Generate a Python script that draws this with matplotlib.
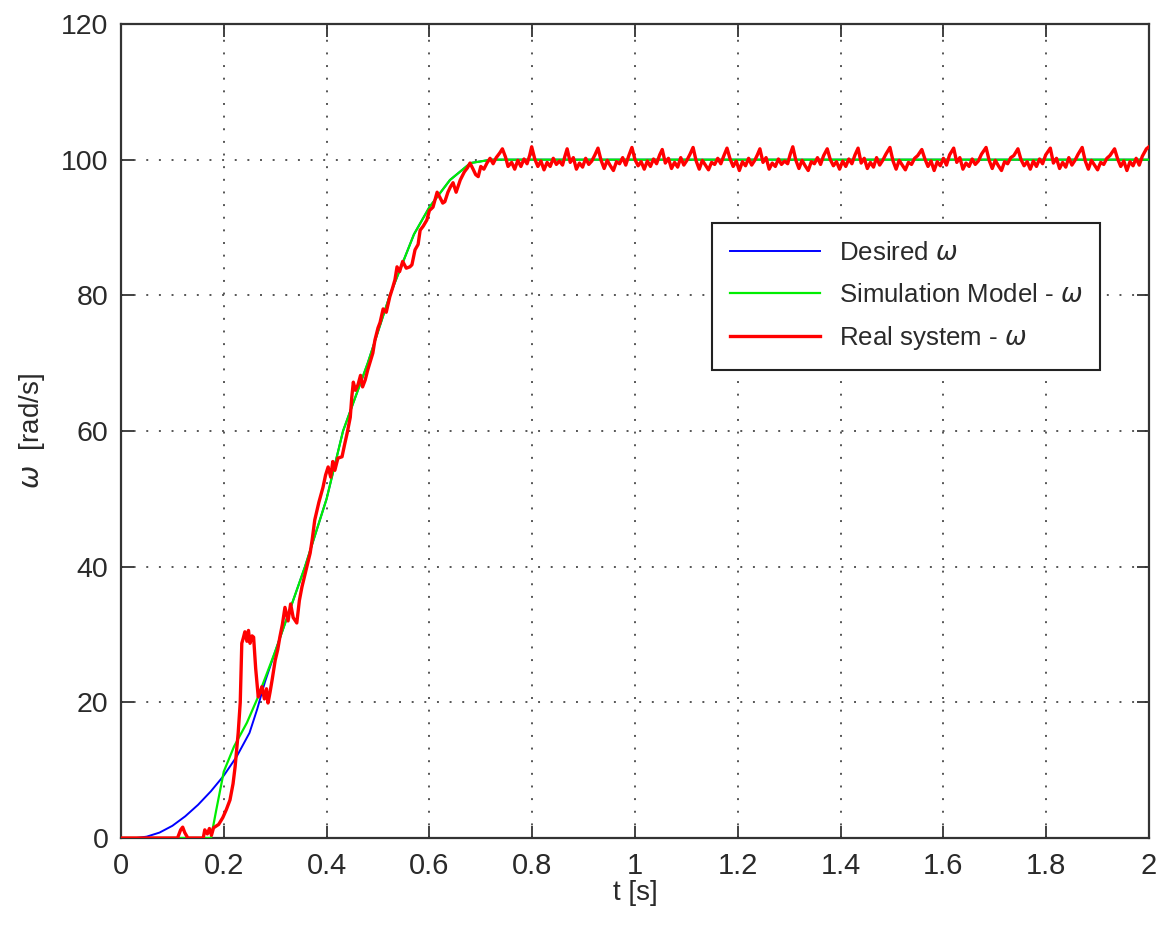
import matplotlib
matplotlib.use("Agg")
import matplotlib.pyplot as plt

# ---------------- data ----------------
t_desired = [0.0, 0.03, 0.05, 0.075, 0.1, 0.125, 0.15, 0.175, 0.2, 0.225, 0.25, 0.265, 0.28,
             0.3, 0.358, 0.4, 0.432, 0.48, 0.523, 0.57, 0.6, 0.64, 0.68, 0.72, 2.0]
w_desired = [0.0, 0.0, 0.2, 0.8, 1.8, 3.2, 4.9, 6.9, 9.2, 12.0, 15.5, 19.0, 23.0,
             27.5, 40.0, 50.0, 60.0, 70.0, 80.0, 89.0, 93.0, 97.0, 99.5, 100.0, 100.0]

t_sim = [0.0, 0.175, 0.185, 0.2, 0.22, 0.245, 0.265, 0.3, 0.358, 0.4, 0.432, 0.48, 0.523,
         0.57, 0.6, 0.64, 0.68, 0.72, 2.0]
w_sim = [0.0, 0.0, 4.0, 9.8, 13.5, 17.0, 20.5, 27.5, 40.0, 50.0, 60.0, 70.0, 80.0,
         89.0, 93.0, 97.0, 99.5, 100.0, 100.0]

# real system: rise phase
t_real_rise = [0.0, 0.11, 0.116, 0.12, 0.124, 0.13, 0.16, 0.163, 0.168, 0.172,
               0.176, 0.18, 0.19, 0.198, 0.205, 0.212, 0.218, 0.222, 0.228, 0.232,
               0.235, 0.238, 0.241, 0.245, 0.248, 0.251, 0.255, 0.258, 0.262, 0.267,
               0.271, 0.274, 0.279, 0.283, 0.286, 0.29, 0.294, 0.3, 0.305, 0.309,
               0.314, 0.319, 0.325, 0.33, 0.335, 0.342, 0.347, 0.352, 0.36, 0.368,
               0.372, 0.377, 0.385, 0.393, 0.398, 0.403, 0.408, 0.412, 0.416, 0.422,
               0.43, 0.435, 0.44, 0.446, 0.449, 0.452, 0.456, 0.461, 0.466, 0.47,
               0.475, 0.48, 0.484, 0.49, 0.494, 0.5, 0.504, 0.51, 0.516, 0.523,
               0.528, 0.533, 0.537, 0.542, 0.548, 0.555, 0.562, 0.566, 0.572, 0.578,
               0.582, 0.588, 0.595, 0.6, 0.607, 0.615, 0.62, 0.626, 0.63, 0.636,
               0.641, 0.646, 0.652, 0.66, 0.668, 0.674, 0.679, 0.685, 0.69, 0.695,
               0.7, 0.706, 0.712, 0.718, 0.724, 0.73, 0.737, 0.742, 0.748, 0.753]
w_real_rise = [0.0, 0.0, 1.2, 1.6, 0.8, 0.0, 0.0, 1.2, 0.6, 1.4,
               0.4, 1.5, 2.0, 3.0, 4.2, 5.6, 8.0, 10.5, 15.5, 20.0,
               28.7, 29.5, 30.4, 29.0, 30.6, 28.7, 29.8, 29.6, 25.0, 20.8,
               21.5, 22.3, 20.5, 22.0, 19.9, 21.5, 23.3, 26.2, 27.8, 29.6,
               31.5, 34.0, 32.0, 34.5, 32.5, 31.7, 35.0, 37.0, 39.5, 42.0,
               44.0, 46.9, 49.5, 51.7, 53.5, 54.7, 53.2, 55.5, 54.2, 56.0,
               56.2, 58.0, 59.7, 62.0, 65.0, 67.2, 66.0, 66.8, 68.2, 66.5,
               67.5, 69.0, 70.0, 71.5, 73.4, 75.2, 76.0, 78.0, 77.5, 79.8,
               81.0, 82.3, 84.2, 83.5, 85.0, 84.0, 84.2, 84.5, 86.7, 87.5,
               89.6, 90.2, 91.1, 92.5, 93.0, 95.2, 94.5, 93.6, 93.8, 95.2,
               96.0, 96.6, 95.2, 97.0, 98.2, 98.8, 99.5, 98.6, 97.8, 97.5,
               99.0, 98.6, 99.5, 100.2, 99.4, 100.3, 101.0, 101.6, 100.4, 99.0]

# real system: steady state ripple
t_real_ss = [0.76, 0.766, 0.772, 0.778, 0.784, 0.79, 0.795,
             0.799, 0.805, 0.811, 0.817, 0.823, 0.829, 0.835, 0.841, 0.847, 0.853, 0.859, 0.864,
             0.868, 0.874, 0.880, 0.886, 0.892, 0.898, 0.904, 0.910, 0.916, 0.922,
             0.928, 0.934, 0.940, 0.946, 0.952, 0.958, 0.964, 0.970, 0.976, 0.982, 0.988,
             0.994, 1.000, 1.006, 1.012, 1.018, 1.024, 1.030, 1.036, 1.042, 1.048,
             1.053, 1.059, 1.065, 1.071, 1.077, 1.083, 1.089, 1.095, 1.101, 1.107,
             1.113, 1.119, 1.125, 1.131, 1.137, 1.143, 1.149, 1.155, 1.161, 1.167, 1.173,
             1.179, 1.185, 1.191, 1.197, 1.203, 1.209, 1.215, 1.221, 1.227, 1.233, 1.238,
             1.243, 1.249, 1.255, 1.261, 1.267, 1.273, 1.279, 1.285, 1.291, 1.297, 1.302,
             1.307, 1.313, 1.319, 1.325, 1.331, 1.337, 1.343, 1.349, 1.355, 1.361, 1.367,
             1.374, 1.380, 1.386, 1.392, 1.398, 1.404, 1.410, 1.416, 1.422, 1.428,
             1.434, 1.440, 1.446, 1.452, 1.458, 1.464, 1.470, 1.476, 1.482, 1.488,
             1.496, 1.502, 1.508, 1.514, 1.520, 1.526, 1.532, 1.538, 1.544, 1.550,
             1.558, 1.564, 1.570, 1.576, 1.582, 1.588, 1.594, 1.600, 1.606, 1.612,
             1.620, 1.626, 1.632, 1.638, 1.644, 1.650, 1.656, 1.662, 1.668, 1.674,
             1.683, 1.689, 1.695, 1.701, 1.707, 1.713, 1.719, 1.725, 1.731, 1.737,
             1.745, 1.751, 1.757, 1.763, 1.769, 1.775, 1.781, 1.787, 1.793, 1.799,
             1.808, 1.814, 1.820, 1.826, 1.832, 1.838, 1.844, 1.850, 1.856, 1.862,
             1.870, 1.876, 1.882, 1.888, 1.894, 1.900, 1.906, 1.912, 1.918, 1.924,
             1.933, 1.939, 1.945, 1.951, 1.957, 1.963, 1.969, 1.975, 1.981, 1.987,
             1.995, 2.0]
w_real_ss = [99.6, 98.6, 99.9, 99.0, 100.1, 99.4, 100.6,
             101.9, 100.1, 99.0, 99.8, 98.5, 99.6, 99.0, 100.2, 99.3, 99.8, 99.2, 100.6,
             101.6, 99.6, 100.3, 98.6, 99.5, 98.9, 100.2, 99.3, 99.8, 100.7,
             101.7, 99.9, 98.7, 99.9, 99.1, 98.4, 99.7, 99.4, 100.3, 99.2, 100.6,
             101.8, 100.0, 99.1, 99.7, 98.6, 99.8, 99.0, 100.1, 99.4, 100.7,
             101.5, 99.5, 100.2, 98.7, 99.6, 98.9, 100.3, 99.2, 99.9, 100.8,
             101.8, 99.8, 98.6, 99.9, 99.2, 98.5, 99.6, 99.3, 100.2, 99.4, 100.6,
             101.7, 100.1, 99.0, 99.8, 98.4, 99.7, 99.1, 100.2, 99.2, 99.9, 100.7,
             101.6, 99.6, 100.3, 98.6, 99.5, 99.0, 100.1, 99.3, 99.8, 99.4, 100.8,
             101.9, 99.9, 98.7, 99.9, 99.1, 98.4, 99.7, 99.4, 100.3, 99.3, 100.6,
             101.6, 100.0, 99.1, 99.7, 98.6, 99.8, 99.0, 100.1, 99.4, 100.7,
             101.7, 99.5, 100.2, 98.7, 99.6, 98.9, 100.3, 99.2, 99.9, 100.8,
             101.8, 99.8, 98.6, 99.9, 99.2, 98.5, 99.6, 99.3, 100.2, 100.6,
             101.5, 100.1, 99.0, 99.8, 98.4, 99.7, 99.1, 100.2, 99.2, 100.7,
             101.7, 99.6, 100.3, 98.6, 99.5, 99.0, 100.1, 99.3, 99.8, 100.8,
             101.8, 99.9, 98.7, 99.9, 99.1, 98.4, 99.7, 99.4, 100.3, 100.6,
             101.6, 100.0, 99.1, 99.7, 98.6, 99.8, 99.0, 100.1, 99.4, 100.7,
             101.7, 99.5, 100.2, 98.7, 99.6, 98.9, 100.3, 99.2, 99.9, 100.8,
             101.8, 99.8, 98.6, 99.9, 99.2, 98.5, 99.6, 99.3, 100.2, 100.6,
             101.6, 100.1, 99.0, 99.8, 98.4, 99.7, 99.1, 100.2, 99.2, 100.5,
             101.6, 101.9]

t_real = t_real_rise + t_real_ss
w_real = w_real_rise + w_real_ss

x_ticks = [0, 0.2, 0.4, 0.6, 0.8, 1.0, 1.2, 1.4, 1.6, 1.8, 2.0]
x_ticklabels = ['0', '0.2', '0.4', '0.6', '0.8', '1', '1.2', '1.4', '1.6', '1.8', '2']
y_ticks = [0, 20, 40, 60, 80, 100, 120]
y_ticklabels = ['0', '20', '40', '60', '80', '100', '120']

labels = ['Desired $\\omega$', 'Simulation Model - $\\omega$', 'Real system - $\\omega$']

# ---------------- plot ----------------
plt.rcParams['mathtext.fontset'] = 'dejavusans'
font = ['Liberation Sans', 'DejaVu Sans']
txtcol = '#2a2a2a'

fig = plt.figure(figsize=(11.66, 9.27), dpi=100)
ax = fig.add_axes([121/1166, 89/927, 1028/1166, 814/927])

n = min(len(t_real), len(w_real))
ax.plot(t_desired, w_desired, color='#0000ff', lw=1.4, label=labels[0], zorder=3)
ax.plot(t_sim, w_sim, color='#00ee00', lw=1.6, label=labels[1], zorder=4)
ax.plot(t_real[:n], w_real[:n], color='#ff0000', lw=2.4, label=labels[2], zorder=5)

ax.set_xlim(0, 2)
ax.set_ylim(0, 120)
ax.set_xticks(x_ticks)
ax.set_xticklabels(x_ticklabels, family=font, fontsize=21, color=txtcol)
ax.set_yticks(y_ticks)
ax.set_yticklabels(y_ticklabels, family=font, fontsize=20.5, color=txtcol)
ax.tick_params(direction='in', length=9, width=1.3, top=True, right=True, colors='#333333')
ax.tick_params(axis='x', pad=10)
ax.tick_params(axis='y', pad=9)
for lab in ax.get_xticklabels() + ax.get_yticklabels():
    lab.set_color(txtcol)
for s in ax.spines.values():
    s.set_linewidth(1.6)
    s.set_color('#333333')

ax.grid(True, linestyle=(0, (1, 5.5)), color='#555555', linewidth=1.4)
ax.set_axisbelow(True)

ax.set_xlabel('t [s]', fontsize=20, family=font, color=txtcol, labelpad=0)
ax.set_ylabel('$\\omega$  [rad/s]', fontsize=20, family=font, color=txtcol, labelpad=10)

leg = ax.legend(loc='upper left', bbox_to_anchor=(0.575, 0.755), borderaxespad=0,
                fancybox=False, framealpha=1, edgecolor='#222222',
                handlelength=3.5, handletextpad=0.72, labelspacing=0.68,
                borderpad=0.68, prop={'family': font, 'size': 18.6})
leg.get_frame().set_linewidth(1.5)
for txt in leg.get_texts():
    txt.set_color(txtcol)

fig.savefig('out.png', dpi=100)
